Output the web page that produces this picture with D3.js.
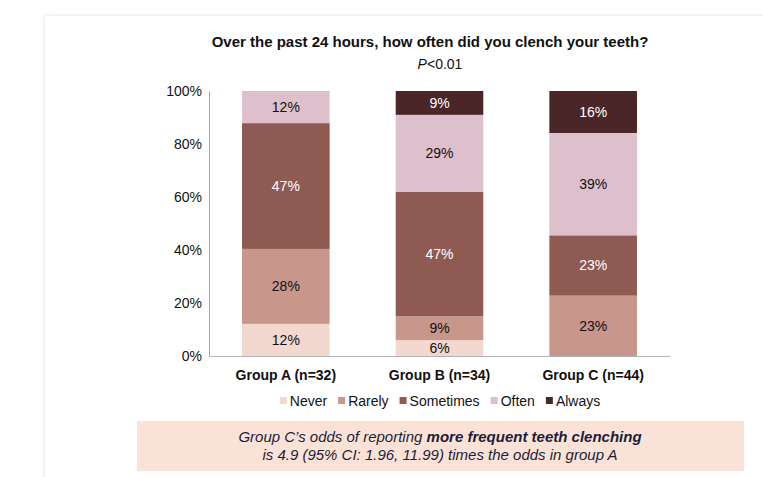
<!DOCTYPE html>
<html>
  <head>
    <title>d3</title>
    <meta charset="utf-8">
    <script src="https://d3js.org/d3.v7.min.js"></script>
    <style type="text/css">
      body { margin: 0; background: #fff; }
      #card {
        position: absolute; left: 45px; top: 16px; width: 740px; height: 480px;
        background: #fff; box-shadow: 0 0 5px rgba(0,0,0,0.13);
      }
      #chart { position: absolute; left: 0; top: 0; }
      #chart text { font-family: "Liberation Sans", Arial, sans-serif; }
    </style>
  </head>
  <body>
    <div id="card"></div>
    <svg id="chart" width="763" height="477"></svg>
    <script>
      // data (percent)
      var groups = ["Group A (n=32)", "Group B (n=34)", "Group C (n=44)"];
      var levels = ["Never", "Rarely", "Sometimes", "Often", "Always"];
      var never     = [12, 6, 0];
      var rarely    = [28, 9, 23];
      var sometimes = [47, 47, 23];
      var often     = [12, 29, 39];
      var always    = [0, 9, 16];
      var yTicks = [0, 20, 40, 60, 80, 100];
      var colors = ["#f2d8cf", "#c8968a", "#8f5a52", "#dec0cc", "#4a2628"];
      var labelColors = ["#111", "#111", "#fff", "#111", "#fff"];

      var series = [never, rarely, sometimes, often, always];
      var rows = groups.map(function(g, i) {
        var r = { group: g };
        levels.forEach(function(l, j) { r[l] = series[j][i]; });
        return r;
      });

      var svg = d3.select("#chart");
      var plotL = 209, plotR = 670, plotT = 91, plotB = 356;

      var x = d3.scaleBand().domain(groups).range([plotL, plotR]).paddingInner(0.43).paddingOuter(0.215);
      var y = d3.scaleLinear().domain([0, 1]).range([plotB, plotT]);

      var stack = d3.stack().keys(levels).offset(d3.stackOffsetExpand);
      var layers = stack(rows);

      // title
      svg.append("text").attr("x", 430).attr("y", 47).attr("text-anchor", "middle")
        .style("font-size", "15px").style("font-weight", "bold").attr("fill", "#111")
        .text("Over the past 24 hours, how often did you clench your teeth?");
      var p = svg.append("text").attr("x", 440).attr("y", 69).attr("text-anchor", "middle")
        .style("font-size", "14px").attr("fill", "#111");
      p.append("tspan").style("font-style", "italic").text("P");
      p.append("tspan").text("<0.01");

      // bars
      var layer = svg.selectAll("g.layer").data(layers).enter().append("g")
          .attr("class", "layer")
          .attr("fill", function(d, i) { return colors[i]; });

      layer.selectAll("rect").data(function(d) { return d; }).enter().append("rect")
          .attr("x", function(d) { return x(d.data.group); })
          .attr("width", x.bandwidth())
          .attr("y", function(d) { return y(d[1]); })
          .attr("height", function(d) { return y(d[0]) - y(d[1]); });

      layer.each(function(L, i) {
        d3.select(this).selectAll("text").data(L.filter(function(d) { return d.data[L.key] > 0; }))
          .enter().append("text")
          .attr("x", function(d) { return x(d.data.group) + x.bandwidth() / 2; })
          .attr("y", function(d) { return (y(d[0]) + y(d[1])) / 2; })
          .attr("dy", "0.35em")
          .attr("text-anchor", "middle")
          .attr("fill", labelColors[i])
          .style("font-size", "14px")
          .text(function(d) { return d.data[L.key] + "%"; });
      });

      // axes
      var yAxis = svg.append("g").attr("transform", "translate(" + plotL + ",0)")
        .call(d3.axisLeft(y).tickValues(yTicks.map(function(t) { return t / 100; }))
          .tickFormat(function(d) { return Math.round(d * 100) + "%"; })
          .tickSize(0).tickPadding(7));
      yAxis.select(".domain").attr("stroke", "#a6a6a6");
      yAxis.selectAll("text").style("font-size", "14px").attr("fill", "#111")
        .style("font-family", "'Liberation Sans', Arial, sans-serif");

      var xAxis = svg.append("g").attr("transform", "translate(0," + plotB + ")")
        .call(d3.axisBottom(x).tickSize(0).tickPadding(14));
      xAxis.select(".domain").attr("stroke", "#b3b3b3").attr("d", "M" + plotL + ",0.5H" + plotR);
      xAxis.selectAll("text").style("font-size", "14px").style("font-weight", "bold").attr("fill", "#111")
        .style("font-family", "'Liberation Sans', Arial, sans-serif");

      // legend
      var legend = svg.append("g");
      var lx = 0;
      levels.forEach(function(l, i) {
        var g = legend.append("g").attr("transform", "translate(" + lx + ",0)");
        g.append("rect").attr("x", 0).attr("y", -4).attr("width", 7).attr("height", 7).attr("fill", colors[i]);
        var t = g.append("text").attr("x", 10).attr("y", 0).attr("dy", "0.35em")
          .style("font-size", "14px").attr("fill", "#111").text(l);
        lx += 10 + t.node().getComputedTextLength() + 11;
      });
      legend.attr("transform", "translate(" + (440 - (lx - 11) / 2) + ",401)");

      // note box
      svg.append("rect").attr("x", 137).attr("y", 421).attr("width", 607).attr("height", 50).attr("fill", "#fae3d6");
      var n1 = svg.append("text").attr("x", 440).attr("y", 442).attr("text-anchor", "middle")
        .style("font-size", "15px").style("font-style", "italic").attr("fill", "#1d1d3b");
      n1.append("tspan").text("Group C\u2019s odds of reporting ");
      n1.append("tspan").style("font-weight", "bold").text("more frequent teeth clenching");
      svg.append("text").attr("x", 440).attr("y", 460).attr("text-anchor", "middle")
        .style("font-size", "15px").style("font-style", "italic").attr("fill", "#1d1d3b")
        .text("is 4.9 (95% CI: 1.96, 11.99) times the odds in group A");
    </script>
  </body>
</html>
